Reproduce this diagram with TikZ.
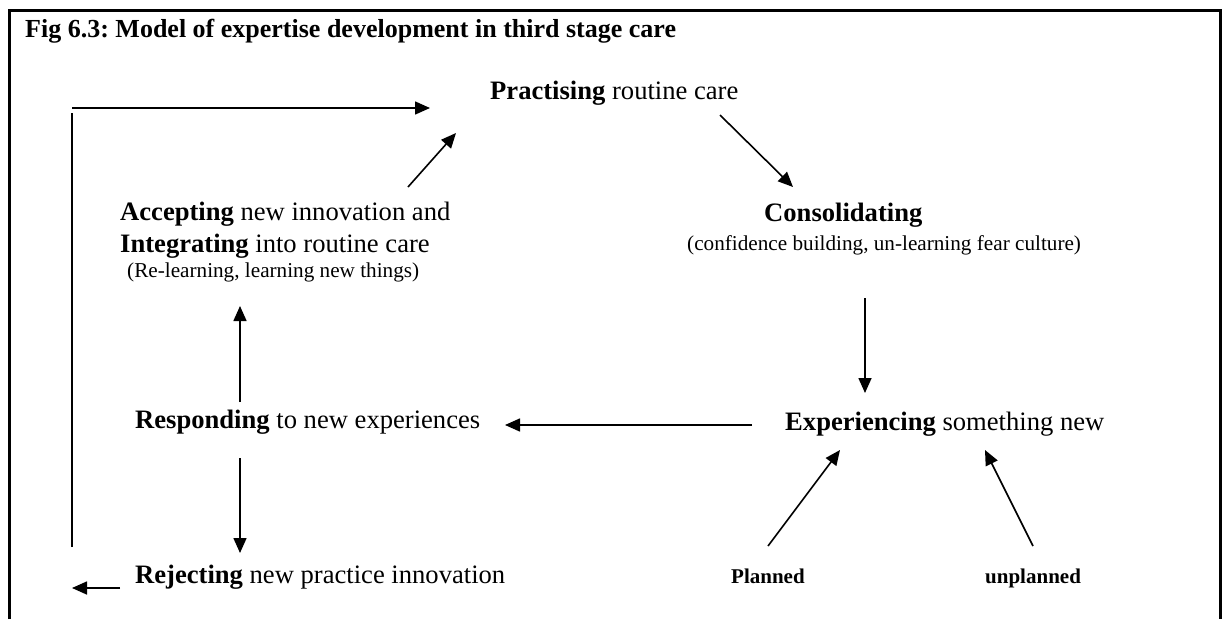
\documentclass[tikz,border=0pt]{standalone}
\usepackage{fontspec}
\setmainfont{Liberation Serif}
\usetikzlibrary{arrows.meta}
\tikzset{
  lbl/.style={inner sep=0pt, anchor=base west, font=\fontsize{26.6}{30}\selectfont},
  sublbl/.style={inner sep=0pt, anchor=base west, font=\fontsize{21.2}{24}\selectfont},
  smallbold/.style={inner sep=0pt, anchor=base west, font=\fontsize{21}{24}\selectfont\bfseries},
  arr/.style={line width=1.6pt, -{Triangle[length=15pt,width=13pt]}},
  plain/.style={line width=1.6pt},
  frame/.style={line width=3pt}
}
\frenchspacing
\begin{document}
\begin{tikzpicture}[x=1pt,y=-1pt]
\useasboundingbox (0,0) rectangle (1227,619);
% frame
\draw[frame] (9,619) -- (9,10) -- (1220,10) -- (1220,619);
% title
\node[inner sep=0pt, anchor=base west, font=\fontsize{26}{30}\selectfont\bfseries] (title) at (25,37) {Fig 6.3: Model of expertise development in third stage care};
% texts
\node[lbl] (prac) at (490,99) {\textbf{Practising} routine care};
\node[lbl] (cons) at (764,221) {\textbf{Consolidating}};
\node[sublbl] (conssub) at (687,250) {(confidence building, un-learning fear culture)};
\node[lbl] (acc) at (120,220) {\textbf{Accepting} new innovation and};
\node[lbl] (integ) at (120,252) {\textbf{Integrating} into routine care};
\node[sublbl] (relearn) at (127,277) {(Re-learning, learning new things)};
\node[lbl] (exp) at (785,430) {\textbf{Experiencing} something new};
\node[lbl] (resp) at (135,428) {\textbf{Responding} to new experiences};
\node[lbl] (rej) at (135,583) {\textbf{Rejecting} new practice innovation};
\node[smallbold] (plan) at (731,583) {Planned};
\node[smallbold] (unplan) at (985,583) {unplanned};
% arrow end points
\coordinate (loopB) at (72,547);
\coordinate (loopT) at (72,113);
\coordinate (topS) at (72,108);
\coordinate (topE) at (430,108);
\coordinate (accS) at (408,187);
\coordinate (accE) at (456,133);
\coordinate (pracS) at (720,115);
\coordinate (pracE) at (793,187);
\coordinate (consS) at (865,298);
\coordinate (consE) at (865,393);
\coordinate (expS) at (752,425);
\coordinate (expE) at (505,425);
\coordinate (respU) at (240,402);
\coordinate (respUE) at (240,306);
\coordinate (respD) at (240,458);
\coordinate (respDE) at (240,553);
\coordinate (rejS) at (120,588);
\coordinate (rejE) at (72,588);
\coordinate (planS) at (768,546);
\coordinate (planE) at (840,450);
\coordinate (unplanS) at (1033,546);
\coordinate (unplanE) at (985,450);
% connectors
\draw[plain] (loopB) -- (loopT);
\draw[arr] (topS) -- (topE);
\draw[arr] (accS) -- (accE);
\draw[arr] (pracS) -- (pracE);
\draw[arr] (consS) -- (consE);
\draw[arr] (expS) -- (expE);
\draw[arr] (respU) -- (respUE);
\draw[arr] (respD) -- (respDE);
\draw[arr] (rejS) -- (rejE);
\draw[arr] (planS) -- (planE);
\draw[arr] (unplanS) -- (unplanE);
\end{tikzpicture}
\end{document}
